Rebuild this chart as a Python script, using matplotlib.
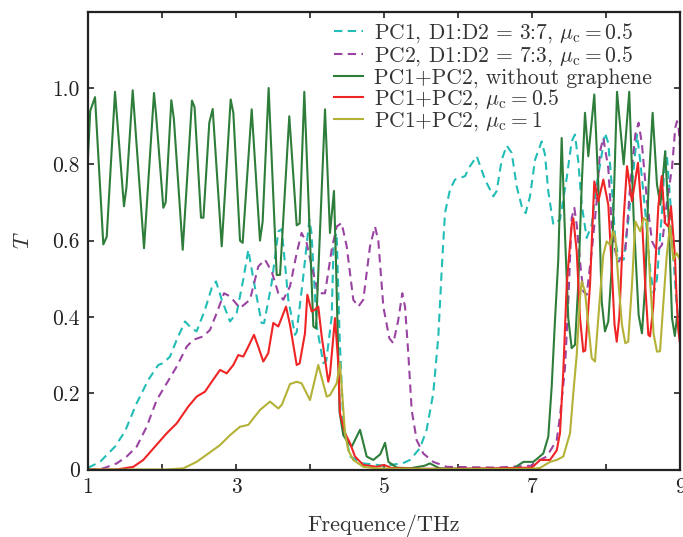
import matplotlib
matplotlib.use("Agg")
import matplotlib.pyplot as plt
from matplotlib.ticker import FixedLocator, FixedFormatter

plt.rcParams['font.family'] = 'serif'
plt.rcParams['font.serif'] = ['cmr10']
plt.rcParams['mathtext.fontset'] = 'cm'
plt.rcParams['axes.formatter.use_mathtext'] = True

# ---------------- data ----------------
pc1_f = [1.0, 1.027, 1.162, 1.365, 1.5, 1.658, 1.815, 1.95, 2.018, 2.108, 2.199, 2.311, 2.401, 2.468,
         2.581, 2.672, 2.73, 2.807, 2.919, 3.009, 3.10, 3.166, 3.234, 3.346, 3.38, 3.482, 3.572, 3.618,
         3.707, 3.797, 3.82, 3.909, 3.991, 4.02, 4.091, 4.18, 4.22, 4.293, 4.32, 4.36, 4.40, 4.45, 4.541,
         4.72, 5.0, 5.25, 5.35, 5.486, 5.576, 5.666, 5.734, 5.78, 5.824, 5.892, 5.959, 6.027, 6.095,
         6.162, 6.253, 6.365, 6.432, 6.477, 6.523, 6.591, 6.658, 6.726, 6.793, 6.861, 6.914, 6.973,
         7.041, 7.131, 7.176, 7.22, 7.288, 7.378, 7.469, 7.536, 7.581, 7.625, 7.672, 7.739, 7.807,
         7.874, 7.942, 7.986, 8.031, 8.077, 8.126, 8.171, 8.239, 8.305, 8.374, 8.419, 8.463, 8.53,
         8.599, 8.645, 8.689, 8.757, 8.80, 8.824, 8.869, 8.915, 8.936, 8.955, 9.0]
pc1_t = [0.005, 0.007, 0.02, 0.06, 0.10, 0.174, 0.235, 0.274, 0.279, 0.296, 0.34, 0.388, 0.37, 0.362,
         0.419, 0.476, 0.493, 0.445, 0.388, 0.41, 0.50, 0.576, 0.50, 0.384, 0.384, 0.489, 0.624, 0.63,
         0.445, 0.353, 0.36, 0.506, 0.655, 0.62, 0.375, 0.279, 0.285, 0.40, 0.60, 0.62, 0.35, 0.12, 0.034,
         0.016, 0.01, 0.016, 0.025, 0.056, 0.104, 0.2, 0.349, 0.524, 0.672, 0.734, 0.76, 0.764, 0.769,
         0.795, 0.821, 0.76, 0.734, 0.716, 0.73, 0.812, 0.849, 0.83, 0.742, 0.69, 0.672, 0.716,
         0.812, 0.86, 0.825, 0.729, 0.642, 0.655, 0.764, 0.86, 0.878, 0.808, 0.694, 0.607, 0.642,
         0.747, 0.825, 0.882, 0.856, 0.747, 0.598, 0.554, 0.55, 0.659, 0.79, 0.878, 0.808, 0.677,
         0.519, 0.462, 0.50, 0.677, 0.834, 0.82, 0.703, 0.545, 0.484, 0.43, 0.36]

pc2_f = [1.0, 1.027, 1.207, 1.388, 1.523, 1.658, 1.793, 1.928, 2.064, 2.199, 2.334, 2.423, 2.558, 2.649,
         2.739, 2.838, 2.919, 3.054, 3.189, 3.301, 3.392, 3.482, 3.572, 3.639, 3.73, 3.82, 3.886, 3.955,
         4.023, 4.112, 4.203, 4.293, 4.361, 4.427, 4.496, 4.585, 4.653, 4.72, 4.811, 4.878, 4.923,
         4.991, 5.072, 5.126, 5.193, 5.247, 5.284, 5.328, 5.374, 5.441, 5.531, 5.666, 5.847, 6.5, 7.0,
         7.018, 7.199, 7.334, 7.378, 7.446, 7.49, 7.536, 7.572, 7.604, 7.649, 7.693, 7.739, 7.807,
         7.874, 7.919, 7.964, 8.031, 8.077, 8.126, 8.171, 8.261, 8.328, 8.396, 8.441, 8.486, 8.554,
         8.622, 8.689, 8.757, 8.824, 8.892, 8.936, 8.959, 8.98, 9.0]
pc2_t = [0.0, 0.0, 0.003, 0.016, 0.034, 0.06, 0.112, 0.182, 0.226, 0.27, 0.322, 0.34, 0.349, 0.366,
         0.41, 0.462, 0.454, 0.423, 0.445, 0.532, 0.55, 0.519, 0.462, 0.445, 0.48, 0.567, 0.62, 0.594,
         0.532, 0.462, 0.462, 0.576, 0.637, 0.646, 0.585, 0.445, 0.427, 0.445, 0.585, 0.637, 0.60,
         0.427, 0.344, 0.331, 0.392, 0.462, 0.427, 0.305, 0.156, 0.077, 0.042, 0.02, 0.007, 0.005, 0.01,
         0.016, 0.034, 0.077, 0.139, 0.266, 0.44, 0.659, 0.686, 0.642, 0.545, 0.467, 0.458, 0.572,
         0.703, 0.834, 0.869, 0.79, 0.642, 0.572, 0.545, 0.572, 0.747, 0.878, 0.909, 0.852, 0.703,
         0.598, 0.572, 0.589, 0.703, 0.79, 0.896, 0.913, 0.90, 0.85]

nog_f = [1.0, 1.03, 1.095, 1.207, 1.253, 1.365, 1.486, 1.52, 1.604, 1.757, 1.892, 1.92, 2.018, 2.05,
         2.126, 2.16, 2.28, 2.405, 2.44, 2.527, 2.56, 2.639, 2.685, 2.807, 2.928, 2.964, 3.054, 3.09,
         3.212, 3.324, 3.36, 3.441, 3.55, 3.595, 3.72, 3.82, 3.86, 3.923, 4.045, 4.081, 4.203, 4.27,
         4.324, 4.35, 4.40, 4.45, 4.50, 4.564, 4.676, 4.766, 4.855, 4.95, 5.014, 5.06, 5.172, 5.35,
         5.55, 5.62, 5.75, 6.0, 6.5, 6.75, 6.884, 7.018, 7.153, 7.22, 7.266, 7.311, 7.355, 7.401,
         7.446, 7.49, 7.536, 7.581, 7.625, 7.672, 7.716, 7.761, 7.842, 7.896, 7.942, 7.986, 8.031,
         8.077, 8.149, 8.239, 8.314, 8.374, 8.441, 8.486, 8.53, 8.576, 8.63, 8.689, 8.734, 8.80,
         8.846, 8.892, 8.93, 8.96]
nog_t = [0.82, 0.94, 0.976, 0.59, 0.61, 0.99, 0.69, 0.74, 0.994, 0.58, 0.987, 0.93, 0.686, 0.70,
         0.968, 0.92, 0.576, 0.967, 0.95, 0.66, 0.66, 0.909, 0.945, 0.585, 0.97, 0.935, 0.60, 0.594,
         0.944, 0.60, 0.65, 1.0, 0.51, 0.51, 0.926, 0.64, 0.645, 0.99, 0.375, 0.37, 0.944, 0.62,
         0.73, 0.55, 0.15, 0.09, 0.075, 0.06, 0.104, 0.034, 0.025, 0.04, 0.07, 0.02, 0.005, 0.003,
         0.01, 0.016, 0.003, 0.002, 0.002, 0.003, 0.02, 0.02, 0.042, 0.086, 0.217, 0.392, 0.55, 0.869,
         0.615, 0.397, 0.318, 0.327, 0.484, 0.747, 0.935, 0.821, 0.983, 0.747, 0.44, 0.362, 0.388,
         0.528, 0.99, 0.80, 0.99, 0.659, 0.405, 0.357, 0.484, 0.747, 0.935, 0.747, 0.694, 0.834,
         0.659, 0.397, 0.35, 0.40]

mu05_f = [1.0, 1.388, 1.612, 1.747, 1.905, 2.064, 2.199, 2.355, 2.468, 2.581, 2.672, 2.784, 2.874,
          2.964, 3.031, 3.099, 3.166, 3.243, 3.301, 3.369, 3.436, 3.504, 3.572, 3.676, 3.73, 3.82,
          3.86, 3.932, 3.964, 4.023, 4.068, 4.112, 4.158, 4.247, 4.27, 4.338, 4.382, 4.405, 4.473,
          4.541, 4.608, 4.72, 4.901, 5.0, 5.1, 5.4, 6.0, 6.5, 7.0, 7.108, 7.243, 7.334, 7.378, 7.423,
          7.469, 7.536, 7.558, 7.604, 7.649, 7.693, 7.72, 7.784, 7.842, 7.896, 7.964, 8.031, 8.08,
          8.115, 8.145, 8.18, 8.239, 8.284, 8.351, 8.432, 8.486, 8.53, 8.572, 8.595, 8.639, 8.707,
          8.753, 8.797, 8.842, 8.878, 8.932, 8.955, 8.977, 9.0]
mu05_t = [0.0, 0.0, 0.007, 0.025, 0.06, 0.095, 0.121, 0.165, 0.191, 0.204, 0.23, 0.261, 0.252,
          0.274, 0.30, 0.296, 0.322, 0.353, 0.322, 0.283, 0.305, 0.384, 0.375, 0.427, 0.379, 0.274,
          0.278, 0.357, 0.458, 0.414, 0.419, 0.427, 0.349, 0.23, 0.25, 0.397, 0.279, 0.147, 0.095,
          0.069, 0.034, 0.012, 0.007, 0.012, 0.004, 0.002, 0.002, 0.003, 0.005, 0.025, 0.025, 0.05,
          0.095, 0.257, 0.484, 0.642, 0.659, 0.572, 0.397, 0.309, 0.312, 0.484, 0.755, 0.703, 0.76,
          0.694, 0.52, 0.38, 0.335, 0.40, 0.659, 0.795, 0.703, 0.804, 0.659, 0.484, 0.353, 0.349,
          0.427, 0.69, 0.769, 0.646, 0.637, 0.69, 0.559, 0.445, 0.366, 0.33]

mu1_f = [1.0, 2.064, 2.288, 2.468, 2.626, 2.784, 2.919, 3.054, 3.166, 3.324, 3.459, 3.572, 3.62,
         3.73, 3.82, 3.886, 4.0, 4.112, 4.226, 4.27, 4.361, 4.405, 4.441, 4.473, 4.518, 4.585, 4.72,
         4.9, 5.2, 6.0, 7.0, 7.108, 7.243, 7.334, 7.423, 7.514, 7.558, 7.604, 7.649, 7.672, 7.716,
         7.761, 7.807, 7.851, 7.896, 7.964, 8.009, 8.054, 8.099, 8.126, 8.171, 8.216, 8.261, 8.30,
         8.351, 8.396, 8.463, 8.509, 8.554, 8.599, 8.645, 8.689, 8.73, 8.78, 8.82, 8.865, 8.909,
         8.955, 9.0]
mu1_t = [0.0, 0.0, 0.003, 0.02, 0.042, 0.064, 0.09, 0.112, 0.117, 0.156, 0.178, 0.16, 0.17,
         0.224, 0.23, 0.226, 0.182, 0.274, 0.191, 0.195, 0.226, 0.279, 0.182, 0.095, 0.05, 0.025,
         0.007, 0.003, 0.002, 0.001, 0.002, 0.004, 0.02, 0.025, 0.034, 0.095, 0.2, 0.30, 0.45, 0.493,
         0.467, 0.379, 0.292, 0.283, 0.397, 0.563, 0.598, 0.589, 0.624, 0.607, 0.484, 0.379, 0.331,
         0.335, 0.484, 0.65, 0.624, 0.659, 0.65, 0.484, 0.353, 0.309, 0.31, 0.45, 0.559, 0.64, 0.55,
         0.567, 0.55]

labels = [r'PC1, D1:D2$\,=\,$3:7, $\mu_{\rm c}=0.5$',
          r'PC2, D1:D2$\,=\,$7:3, $\mu_{\rm c}=0.5$',
          r'PC1+PC2, without graphene',
          r'PC1+PC2, $\mu_{\rm c}=0.5$',
          r'PC1+PC2, $\mu_{\rm c}=1$']

xticks = [1, 2, 3, 4, 5, 6, 7, 8, 9]
xticklabels = ['1', '', '3', '', '5', '', '7', '', '9']
yticks = [0, 0.2, 0.4, 0.6, 0.8, 1.0]
yticklabels = ['0', '0.2', '0.4', '0.6', '0.8', '1.0']

# ---------------- figure ----------------
fig = plt.figure(figsize=(6.83, 5.37), dpi=100)
ax = fig.add_axes([88/683, 1-469.5/537, (680-88)/683, (469.5-11.7)/537])

c_cyan = '#22bdb6'
c_purple = '#9a44a2'
c_green = '#2e7d3a'
c_red = '#ef2424'
c_olive = '#b4b236'
lw = 1.5

ax.plot(pc1_f, pc1_t, color=c_cyan, lw=lw, dashes=(4, 2.6), label=labels[0])
ax.plot(pc2_f, pc2_t, color=c_purple, lw=lw, dashes=(4, 2.6), label=labels[1])
ax.plot(nog_f, nog_t, color=c_green, lw=lw, label=labels[2])
ax.plot(mu05_f, mu05_t, color=c_red, lw=lw, label=labels[3])
ax.plot(mu1_f, mu1_t, color=c_olive, lw=lw, label=labels[4])

ax.set_xlim(1, 9)
ax.set_ylim(0, 1.2)
ax.xaxis.set_major_locator(FixedLocator(xticks))
ax.xaxis.set_major_formatter(FixedFormatter(xticklabels))
ax.yaxis.set_major_locator(FixedLocator(yticks))
ax.yaxis.set_major_formatter(FixedFormatter(yticklabels))
ax.tick_params(direction='in', top=True, right=True, length=4.5, width=1.2,
               labelsize=15.5, colors='#222222', pad=6)
for s in ax.spines.values():
    s.set_linewidth(1.6)
    s.set_color('#222222')

ax.set_xlabel('Frequence/THz', fontsize=16, color='#333333', labelpad=12)
ax.set_ylabel(r'$T$', fontsize=16, color='#333333', labelpad=14)

leg = ax.legend(loc='upper left', bbox_to_anchor=(334/683, 1-21/537),
                bbox_transform=fig.transFigure, frameon=False, fontsize=15.5,
                handlelength=1.35, handletextpad=0.5, labelspacing=-0.02,
                borderaxespad=0, borderpad=0)
for t in leg.get_texts():
    t.set_color('#333333')

fig.savefig('out.png', dpi=100)
